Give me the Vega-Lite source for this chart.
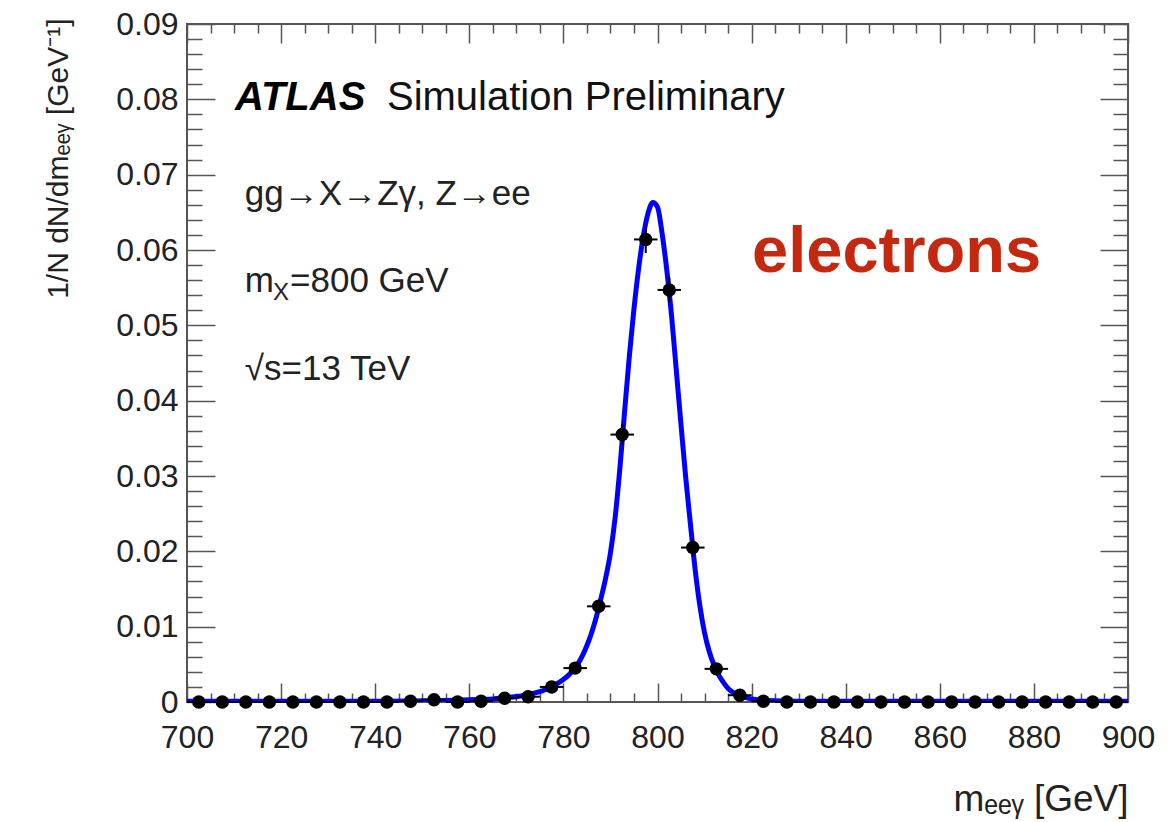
{
  "$schema": "https://vega.github.io/schema/vega-lite/v6.json",
  "width": 941,
  "height": 678,
  "autosize": {"type": "none"},
  "padding": {"left": 187, "top": 24, "right": 48, "bottom": 120},
  "background": "white",
  "config": {
    "font": "Liberation Sans",
    "view": {"stroke": "#555555", "strokeWidth": 2},
    "axis": {
      "domain": false,
      "grid": false,
      "labelFont": "Liberation Sans",
      "labelFontSize": 32,
      "labelColor": "#222222",
      "tickColor": "#555555",
      "tickWidth": 1.5,
      "labelFlush": false,
      "labelOverlap": false,
      "labelBound": false,
      "titleFont": "Liberation Sans",
      "titleFontWeight": "normal",
      "titleFontSize": 32,
      "titleColor": "#222222"
    }
  },
  "datasets": {
    "curve": [
      {"m": 700, "v": 0.0001}, {"m": 720, "v": 0.0001}, {"m": 740, "v": 0.0001},
      {"m": 750, "v": 0.00015}, {"m": 755, "v": 0.0002}, {"m": 760, "v": 0.0003},
      {"m": 765, "v": 0.0004}, {"m": 768, "v": 0.0006}, {"m": 771, "v": 0.0008},
      {"m": 774, "v": 0.0012}, {"m": 776, "v": 0.0016}, {"m": 778, "v": 0.0022},
      {"m": 780, "v": 0.003}, {"m": 781, "v": 0.0035}, {"m": 782, "v": 0.0042},
      {"m": 783, "v": 0.005}, {"m": 784, "v": 0.0061}, {"m": 785, "v": 0.0075},
      {"m": 786, "v": 0.0092}, {"m": 787, "v": 0.0113}, {"m": 788, "v": 0.0138},
      {"m": 789, "v": 0.0165}, {"m": 790, "v": 0.0198}, {"m": 791, "v": 0.0245},
      {"m": 792, "v": 0.031}, {"m": 793, "v": 0.0385}, {"m": 794, "v": 0.0458},
      {"m": 795, "v": 0.0522}, {"m": 796, "v": 0.0576}, {"m": 797, "v": 0.0619},
      {"m": 798, "v": 0.0649}, {"m": 799, "v": 0.0663}, {"m": 800, "v": 0.0657},
      {"m": 801, "v": 0.0621}, {"m": 802, "v": 0.0572}, {"m": 803, "v": 0.0512},
      {"m": 804, "v": 0.044}, {"m": 805, "v": 0.0368}, {"m": 806, "v": 0.0298},
      {"m": 807, "v": 0.0236}, {"m": 808, "v": 0.0176}, {"m": 809, "v": 0.0128},
      {"m": 810, "v": 0.0092}, {"m": 811, "v": 0.0067}, {"m": 812, "v": 0.0049},
      {"m": 813, "v": 0.0036}, {"m": 814, "v": 0.0026}, {"m": 815, "v": 0.0018},
      {"m": 816, "v": 0.0013}, {"m": 818, "v": 0.0007}, {"m": 820, "v": 0.0004},
      {"m": 823, "v": 0.0002}, {"m": 830, "v": 0.0001}, {"m": 900, "v": 0.0001}
    ],
    "pts": [
      {"m": 702.5, "lo": 700, "hi": 705, "v": 0, "vlo": 0, "vhi": 0.0001},
      {"m": 707.5, "lo": 705, "hi": 710, "v": 0, "vlo": 0, "vhi": 0.0001},
      {"m": 712.5, "lo": 710, "hi": 715, "v": 0, "vlo": 0, "vhi": 0.0001},
      {"m": 717.5, "lo": 715, "hi": 720, "v": 0, "vlo": 0, "vhi": 0.0001},
      {"m": 722.5, "lo": 720, "hi": 725, "v": 0, "vlo": 0, "vhi": 0.0001},
      {"m": 727.5, "lo": 725, "hi": 730, "v": 0, "vlo": 0, "vhi": 0.0001},
      {"m": 732.5, "lo": 730, "hi": 735, "v": 0, "vlo": 0, "vhi": 0.0001},
      {"m": 737.5, "lo": 735, "hi": 740, "v": 0, "vlo": 0, "vhi": 0.0001},
      {"m": 742.5, "lo": 740, "hi": 745, "v": 0, "vlo": 0, "vhi": 0.0001},
      {"m": 747.5, "lo": 745, "hi": 750, "v": 0.0001, "vlo": 0, "vhi": 0.0002},
      {"m": 752.5, "lo": 750, "hi": 755, "v": 0.0003, "vlo": 0.0001, "vhi": 0.0005},
      {"m": 757.5, "lo": 755, "hi": 760, "v": 0, "vlo": 0, "vhi": 0.0001},
      {"m": 762.5, "lo": 760, "hi": 765, "v": 0.0001, "vlo": 0, "vhi": 0.0002},
      {"m": 767.5, "lo": 765, "hi": 770, "v": 0.0005, "vlo": 0.0003, "vhi": 0.0007},
      {"m": 772.5, "lo": 770, "hi": 775, "v": 0.0007, "vlo": 0.0004, "vhi": 0.001},
      {"m": 777.5, "lo": 775, "hi": 780, "v": 0.002, "vlo": 0.0016, "vhi": 0.0024},
      {"m": 782.5, "lo": 780, "hi": 785, "v": 0.0045, "vlo": 0.004, "vhi": 0.005},
      {"m": 787.5, "lo": 785, "hi": 790, "v": 0.0127, "vlo": 0.0119, "vhi": 0.0135},
      {"m": 792.5, "lo": 790, "hi": 795, "v": 0.0355, "vlo": 0.0342, "vhi": 0.0368},
      {"m": 797.5, "lo": 795, "hi": 800, "v": 0.0614, "vlo": 0.0596, "vhi": 0.0632},
      {"m": 802.5, "lo": 800, "hi": 805, "v": 0.0547, "vlo": 0.053, "vhi": 0.0564},
      {"m": 807.5, "lo": 805, "hi": 810, "v": 0.0205, "vlo": 0.0193, "vhi": 0.0217},
      {"m": 812.5, "lo": 810, "hi": 815, "v": 0.0044, "vlo": 0.0038, "vhi": 0.005},
      {"m": 817.5, "lo": 815, "hi": 820, "v": 0.0009, "vlo": 0.0006, "vhi": 0.0012},
      {"m": 822.5, "lo": 820, "hi": 825, "v": 0.0001, "vlo": 0, "vhi": 0.0002},
      {"m": 827.5, "lo": 825, "hi": 830, "v": 0, "vlo": 0, "vhi": 0.0001},
      {"m": 832.5, "lo": 830, "hi": 835, "v": 0, "vlo": 0, "vhi": 0.0001},
      {"m": 837.5, "lo": 835, "hi": 840, "v": 0, "vlo": 0, "vhi": 0.0001},
      {"m": 842.5, "lo": 840, "hi": 845, "v": 0, "vlo": 0, "vhi": 0.0001},
      {"m": 847.5, "lo": 845, "hi": 850, "v": 0, "vlo": 0, "vhi": 0.0001},
      {"m": 852.5, "lo": 850, "hi": 855, "v": 0, "vlo": 0, "vhi": 0.0001},
      {"m": 857.5, "lo": 855, "hi": 860, "v": 0, "vlo": 0, "vhi": 0.0001},
      {"m": 862.5, "lo": 860, "hi": 865, "v": 0, "vlo": 0, "vhi": 0.0001},
      {"m": 867.5, "lo": 865, "hi": 870, "v": 0, "vlo": 0, "vhi": 0.0001},
      {"m": 872.5, "lo": 870, "hi": 875, "v": 0, "vlo": 0, "vhi": 0.0001},
      {"m": 877.5, "lo": 875, "hi": 880, "v": 0, "vlo": 0, "vhi": 0.0001},
      {"m": 882.5, "lo": 880, "hi": 885, "v": 0, "vlo": 0, "vhi": 0.0001},
      {"m": 887.5, "lo": 885, "hi": 890, "v": 0, "vlo": 0, "vhi": 0.0001},
      {"m": 892.5, "lo": 890, "hi": 895, "v": 0, "vlo": 0, "vhi": 0.0001},
      {"m": 897.5, "lo": 895, "hi": 900, "v": 0, "vlo": 0, "vhi": 0.0001}
    ],
    "atlas": [{"m": 710.2, "v": 0.0786, "t": "ATLAS"}],
    "sim": [{"m": 742.5, "v": 0.0786, "t": "Simulation Preliminary"}],
    "info": [
      {"m": 712.3, "v": 0.066, "t": "gg→X→Zγ, Z→ee"},
      {"m": 712.3, "v": 0.0544, "t": "m"},
      {"m": 721.9, "v": 0.0544, "t": "=800 GeV"},
      {"m": 712.3, "v": 0.0427, "t": "√s=13 TeV"}
    ],
    "sub": [{"m": 718.3, "v": 0.0534, "t": "X"}],
    "elec": [{"m": 820.1, "v": 0.0571, "t": "electrons"}]
  },
  "resolve": {"axis": {"x": "independent", "y": "independent"}},
  "layer": [
    {
      "data": {"name": "curve"},
      "mark": {"type": "line", "color": "#0000ff", "strokeWidth": 5, "interpolate": "monotone", "clip": true},
      "encoding": {
        "x": {"field": "m", "type": "quantitative",
          "scale": {"domain": [700, 900], "nice": false, "zero": false},
          "axis": {"orient": "bottom", "values": [700, 720, 740, 760, 780, 800, 820, 840, 860, 880, 900],
            "tickSize": -19, "labelPadding": 39,
            "title": "mₑₑᵧ [GeV]", "titleFontSize": 37, "titleX": 941, "titleY": 108, "titleAlign": "right", "titleBaseline": "alphabetic"}},
        "y": {"field": "v", "type": "quantitative",
          "scale": {"domain": [0, 0.09], "nice": false, "zero": true},
          "axis": {"orient": "left", "values": [0, 0.01, 0.02, 0.03, 0.04, 0.05, 0.06, 0.07, 0.08, 0.09],
            "tickSize": -28, "labelPadding": 37,
            "labelExpr": "datum.value == 0 ? '0' : format(datum.value, '.2f')",
            "title": "1/N dN/dmₑₑᵧ [GeV⁻¹]", "titleFontSize": 30, "titleX": -120, "titleY": -6, "titleAngle": -90, "titleAlign": "right", "titleBaseline": "alphabetic"}}
      }
    },
    {
      "data": {"name": "pts"},
      "mark": {"type": "rule", "color": "black", "strokeWidth": 2},
      "encoding": {
        "x": {"field": "lo", "type": "quantitative",
          "axis": {"orient": "bottom", "values": [705, 710, 715, 725, 730, 735, 745, 750, 755, 765, 770, 775, 785, 790, 795, 805, 810, 815, 825, 830, 835, 845, 850, 855, 865, 870, 875, 885, 890, 895],
            "tickSize": -9, "labels": false, "title": null}},
        "x2": {"field": "hi"},
        "y": {"field": "v", "type": "quantitative",
          "axis": {"orient": "left", "values": [0.002, 0.004, 0.006, 0.008, 0.012, 0.014, 0.016, 0.018, 0.022, 0.024, 0.026, 0.028, 0.032, 0.034, 0.036, 0.038, 0.042, 0.044, 0.046, 0.048, 0.052, 0.054, 0.056, 0.058, 0.062, 0.064, 0.066, 0.068, 0.072, 0.074, 0.076, 0.078, 0.082, 0.084, 0.086, 0.088],
            "tickSize": -15, "labels": false, "title": null}}
      }
    },
    {
      "data": {"name": "pts"},
      "mark": {"type": "rule", "color": "black", "strokeWidth": 2},
      "encoding": {
        "x": {"field": "m", "type": "quantitative",
          "axis": {"orient": "top", "values": [700, 720, 740, 760, 780, 800, 820, 840, 860, 880, 900],
            "tickSize": -19, "labels": false, "title": null}},
        "y": {"field": "vlo", "type": "quantitative",
          "axis": {"orient": "right", "values": [0, 0.01, 0.02, 0.03, 0.04, 0.05, 0.06, 0.07, 0.08, 0.09],
            "tickSize": -28, "labels": false, "title": null}},
        "y2": {"field": "vhi"}
      }
    },
    {
      "data": {"name": "pts"},
      "mark": {"type": "circle", "color": "black", "opacity": 1, "size": 180},
      "encoding": {
        "x": {"field": "m", "type": "quantitative",
          "axis": {"orient": "top", "values": [705, 710, 715, 725, 730, 735, 745, 750, 755, 765, 770, 775, 785, 790, 795, 805, 810, 815, 825, 830, 835, 845, 850, 855, 865, 870, 875, 885, 890, 895],
            "tickSize": -9, "labels": false, "title": null}},
        "y": {"field": "v", "type": "quantitative",
          "axis": {"orient": "right", "values": [0.002, 0.004, 0.006, 0.008, 0.012, 0.014, 0.016, 0.018, 0.022, 0.024, 0.026, 0.028, 0.032, 0.034, 0.036, 0.038, 0.042, 0.044, 0.046, 0.048, 0.052, 0.054, 0.056, 0.058, 0.062, 0.064, 0.066, 0.068, 0.072, 0.074, 0.076, 0.078, 0.082, 0.084, 0.086, 0.088],
            "tickSize": -15, "labels": false, "title": null}}
      }
    },
    {
      "data": {"name": "atlas"},
      "mark": {"type": "text", "align": "left", "baseline": "alphabetic", "fontSize": 40, "fontWeight": "bold", "fontStyle": "italic", "color": "black"},
      "encoding": {
        "x": {"field": "m", "type": "quantitative", "axis": null},
        "y": {"field": "v", "type": "quantitative", "axis": null},
        "text": {"field": "t"}
      }
    },
    {
      "data": {"name": "sim"},
      "mark": {"type": "text", "align": "left", "baseline": "alphabetic", "fontSize": 40, "color": "#111111"},
      "encoding": {
        "x": {"field": "m", "type": "quantitative", "axis": null},
        "y": {"field": "v", "type": "quantitative", "axis": null},
        "text": {"field": "t"}
      }
    },
    {
      "data": {"name": "info"},
      "mark": {"type": "text", "align": "left", "baseline": "alphabetic", "fontSize": 35, "color": "#222222"},
      "encoding": {
        "x": {"field": "m", "type": "quantitative", "axis": null},
        "y": {"field": "v", "type": "quantitative", "axis": null},
        "text": {"field": "t"}
      }
    },
    {
      "data": {"name": "sub"},
      "mark": {"type": "text", "align": "left", "baseline": "alphabetic", "fontSize": 24, "color": "#222222"},
      "encoding": {
        "x": {"field": "m", "type": "quantitative", "axis": null},
        "y": {"field": "v", "type": "quantitative", "axis": null},
        "text": {"field": "t"}
      }
    },
    {
      "data": {"name": "elec"},
      "mark": {"type": "text", "align": "left", "baseline": "alphabetic", "fontSize": 65, "fontWeight": "bold", "color": "#c4280e"},
      "encoding": {
        "x": {"field": "m", "type": "quantitative", "axis": null},
        "y": {"field": "v", "type": "quantitative", "axis": null},
        "text": {"field": "t"}
      }
    }
  ]
}
